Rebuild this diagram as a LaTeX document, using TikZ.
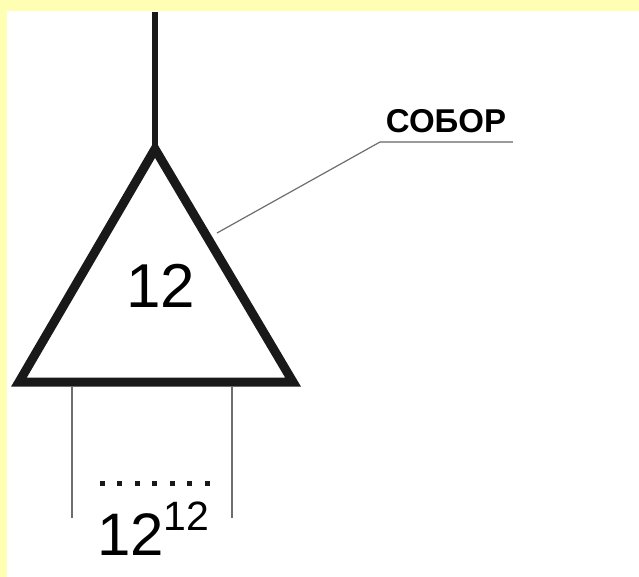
\documentclass[tikz,border=0pt]{standalone}
\usepackage{fontspec}
\setmainfont{Liberation Sans}
\usetikzlibrary{calc}
\definecolor{paleyellow}{HTML}{FFFFB3}
\definecolor{leadgray}{HTML}{6E6E6E}
\definecolor{rulegray}{HTML}{9A9A9A}
\newcommand{\leg}[2]{\draw[leadgray, line width=1.8] (#1) -- (#2);}
\newcommand{\dotmark}[2]{\fill[black!90] ( #1-2.5 , #2-2.5 ) rectangle ( #1+2.5 , #2+2.5 );}

\begin{document}
\begin{tikzpicture}[x=1pt, y=-1pt]
        % frame
        \fill[paleyellow] (0,0) rectangle (639,577);
        \fill[white] (7,11) rectangle (639,577);
        \useasboundingbox (0,0) rectangle (639,577);
        % stem and triangle
        \coordinate (top) at (155,12);
        \coordinate (apex) at (155,149);
        \coordinate (bl) at (19,382);
        \coordinate (br) at (293,382);
        \draw[line width=6, black!90] (top) -- (apex);
        \draw[line width=9, black!90, line join=miter] (apex) -- (bl) -- (br) -- cycle;
        \node[inner sep=0] (count) at (161,286) {\fontsize{62}{62}\selectfont 12};
        % label
        \coordinate (hit) at (217,233);
        \coordinate (bend) at (380,142);
        \coordinate (tail) at (513,142);
        \node[inner sep=0] (sobor) at (446,121) {\fontsize{33}{33}\selectfont\bfseries СОБОР};
        \draw[leadgray, line width=1.2] (hit) -- (bend);
        \draw[rulegray, line width=2.6] (bend) -- (tail);
        % legs
        \coordinate (legA) at (72,386);
        \coordinate (legAend) at (72,518);
        \coordinate (legB) at (232,386);
        \coordinate (legBend) at (232,518);
        \leg{legA}{legAend}
        \leg{legB}{legBend}
        % dots
        \foreach \i in {0,...,6} {
            \dotmark{102+17.5*\i}{483}
        }
        \node[inner sep=0, anchor=base west] (power) at (97,555)
            {\fontsize{60}{60}\selectfont 12\raisebox{25pt}{\fontsize{41}{41}\selectfont 12}};
\end{tikzpicture}
\end{document}
